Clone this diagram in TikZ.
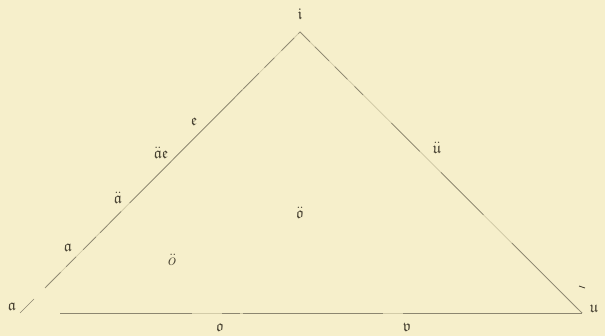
\documentclass[tikz,border=0pt]{standalone}
\usepackage{amssymb}
\definecolor{paper}{HTML}{F6EFCB}
\definecolor{ink}{HTML}{4A4434}
\definecolor{linec}{HTML}{8C8670}
\definecolor{linelight}{HTML}{D2CBA8}
\begin{document}
\begin{tikzpicture}[x=1pt,y=-1pt,
  lbl/.style={text=ink, inner sep=0pt, font=\fontsize{16}{16}\selectfont},
  faint/.style={draw=linelight, line width=0.8pt},
  edgeline/.style={draw=linec, line width=0.7pt}]
\fill[paper] (0,0) rectangle (605,336);
\useasboundingbox (0,0) rectangle (605,336);
% vertices
\coordinate (I) at (300,32);
\coordinate (A) at (20,313);
\coordinate (L1) at (34,299);
\coordinate (L2) at (45,288);
\coordinate (U) at (582,313);
\coordinate (B1) at (60,313);
% faint full edges
\draw[faint] (L2) -- (I);
\draw[faint] (I) -- (U);
\draw[faint] (B1) -- (U);
% darker strokes
\draw[edgeline] (A) -- (L1);
\draw[edgeline, dash pattern=on 22pt off 8pt on 14pt off 10pt on 18pt off 6pt on 30pt off 12pt on 160pt off 1pt] (L2) -- (I);
\draw[edgeline, dash pattern=on 14pt off 7pt on 20pt off 8pt on 18pt off 10pt on 12pt off 40pt on 40pt off 30pt on 60pt off 40pt on 100pt off 1pt] (I) -- (U);
\draw[edgeline, dash pattern=on 132pt off 30pt on 18pt off 3pt on 140pt off 20pt on 200pt off 1pt] (B1) -- (U);
\draw[draw=ink, line width=0.8pt] (579,286) -- (585,288);
% labels
\node[lbl] (li) at (300,14) {$\mathfrak{i}$};
\node[lbl] (le) at (194,122) {$\mathfrak{e}$};
\node[lbl] (lae) at (161,153) {$\ddot{\mathfrak{a}}\mathfrak{e}$};
\node[lbl] (lauml) at (118,198) {$\ddot{\mathfrak{a}}$};
\node[lbl] (la1) at (68,248) {$\mathfrak{a}$};
\node[lbl] (la2) at (12,307) {$\mathfrak{a}$};
\node[lbl] (luuml) at (437,148) {$\ddot{\mathfrak{u}}$};
\node[lbl] (loi) at (300,213) {$\ddot{\mathfrak{o}}$};
\node[lbl] (loit) at (172,260) {$\ddot{o}$};
\node[lbl] (lo) at (220,328) {$\mathfrak{o}$};
\node[lbl] (lv) at (407,327) {$\mathfrak{v}$};
\node[lbl] (lu) at (594,309) {$\mathfrak{u}$};
\end{tikzpicture}
\end{document}
